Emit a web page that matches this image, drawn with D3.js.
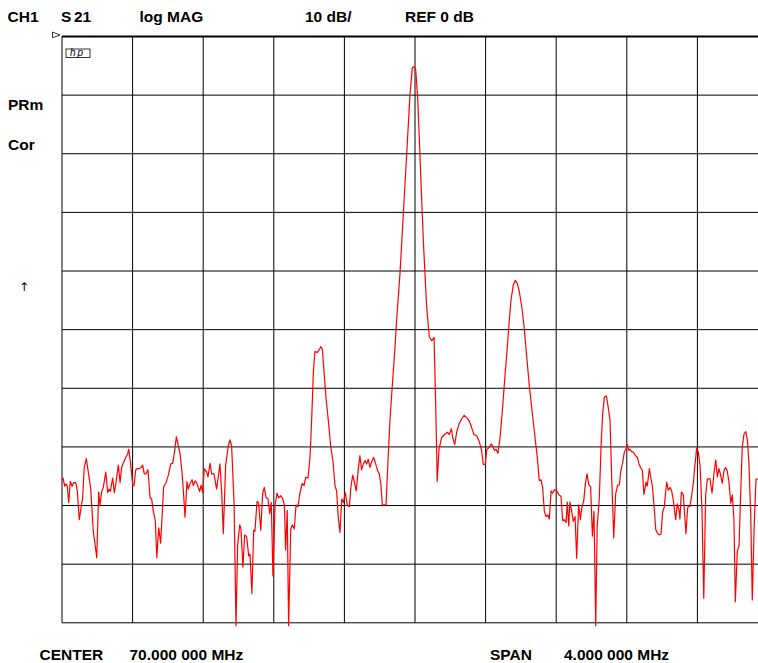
<!DOCTYPE html>
<html><head><meta charset="utf-8">
<script src="https://cdn.jsdelivr.net/npm/d3@7/dist/d3.min.js"></script>
<style>
html,body{margin:0;padding:0;background:#fff;}
svg{display:block;}
text{font-family:"Liberation Sans",Arial,Helvetica,sans-serif;font-weight:bold;fill:#000;}
</style></head>
<body>
<script>
// ---- data ----
const headerLabels = ["CH1", "S", "21", "log MAG", "10 dB/", "REF 0 dB"];
const sideLabels = ["PRm", "Cor"];
const footerLabels = ["CENTER", "70.000 000 MHz", "SPAN", "4.000 000 MHz"];
const freqDomain = [68, 72];      // MHz (center 70, span 4)
const dbDomain = [-100, 0];       // REF 0 dB, 10 dB/div
const xGrid = [68.0, 68.4, 68.8, 69.2, 69.6, 70.0, 70.4, 70.8, 71.2, 71.6, 72.0];
const yGrid = [0, -10, -20, -30, -40, -50, -60, -70, -80, -90, -100];

const freq = [68.000,68.006,68.015,68.023,68.030,68.038,68.047,68.057,68.066,68.078,68.087,68.098,68.109,68.117,68.126,68.138,68.149,68.163,68.177,68.187,68.197,68.208,68.215,68.225,68.234,68.248,68.259,68.266,68.274,68.287,68.296,68.306,68.319,68.329,68.338,68.347,68.361,68.372,68.378,68.389,68.401,68.408,68.418,68.427,68.438,68.449,68.457,68.466,68.476,68.487,68.499,68.508,68.517,68.529,68.537,68.548,68.559,68.576,68.589,68.602,68.616,68.627,68.636,68.648,68.659,68.669,68.680,68.690,68.697,68.708,68.716,68.725,68.737,68.744,68.754,68.763,68.771,68.780,68.788,68.797,68.806,68.820,68.827,68.839,68.848,68.861,68.876,68.895,68.905,68.914,68.927,68.942,68.952,68.961,68.975,68.986,68.995,69.007,69.014,69.025,69.035,69.046,69.058,69.065,69.076,69.086,69.093,69.105,69.114,69.126,69.137,69.146,69.157,69.167,69.177,69.186,69.195,69.207,69.218,69.228,69.239,69.250,69.260,69.267,69.276,69.284,69.296,69.305,69.316,69.326,69.337,69.348,69.361,69.371,69.381,69.394,69.405,69.415,69.424,69.433,69.446,69.456,69.466,69.475,69.484,69.496,69.509,69.522,69.535,69.547,69.556,69.565,69.575,69.585,69.594,69.605,69.616,69.628,69.637,69.647,69.658,69.667,69.679,69.688,69.697,69.707,69.717,69.726,69.735,69.745,69.756,69.766,69.777,69.789,69.798,69.807,69.815,69.836,69.847,69.858,69.871,69.887,69.896,69.915,69.934,69.953,69.972,69.985,69.996,70.004,70.015,70.032,70.047,70.066,70.081,70.095,70.108,70.117,70.126,70.136,70.151,70.170,70.185,70.194,70.206,70.213,70.225,70.236,70.249,70.265,70.278,70.293,70.308,70.321,70.334,70.350,70.363,70.376,70.387,70.398,70.406,70.419,70.431,70.440,70.449,70.459,70.470,70.482,70.495,70.508,70.520,70.533,70.544,70.557,70.568,70.580,70.591,70.605,70.618,70.633,70.648,70.663,70.680,70.693,70.704,70.714,70.723,70.733,70.742,70.752,70.761,70.771,70.780,70.789,70.803,70.816,70.827,70.837,70.846,70.856,70.863,70.871,70.878,70.888,70.897,70.907,70.916,70.927,70.937,70.946,70.956,70.965,70.975,70.984,70.995,71.005,71.014,71.024,71.032,71.044,71.054,71.063,71.073,71.084,71.095,71.105,71.115,71.126,71.137,71.148,71.158,71.165,71.177,71.186,71.195,71.203,71.211,71.218,71.228,71.237,71.250,71.260,71.269,71.279,71.288,71.297,71.309,71.316,71.328,71.337,71.345,71.354,71.364,71.373,71.384,71.394,71.403,71.412,71.426,71.435,71.445,71.454,71.463,71.477,71.486,71.496,71.501,71.509,71.520,71.535,71.545,71.558,71.568,71.577,71.586,71.596,71.605,71.615,71.626,71.636,71.647,71.656,71.671,71.683,71.694,71.704,71.713,71.722,71.732,71.741,71.751,71.760,71.769,71.779,71.789,71.798,71.807,71.815,71.826,71.836,71.845,71.854,71.864,71.874,71.883,71.892,71.902,71.911,71.921,71.932,71.943];

const s21 = [-75.5,-75.3,-76.7,-76.3,-76.7,-79.5,-75.9,-76.7,-76.1,-76.1,-77.6,-82.4,-80.2,-78.7,-73.5,-72.0,-74.3,-77.2,-84.3,-86.6,-88.9,-77.7,-80.0,-77.6,-76.9,-74.3,-77.8,-77.2,-77.6,-75.3,-77.8,-76.1,-73.1,-76.1,-73.5,-72.8,-71.8,-71.2,-70.4,-72.9,-76.6,-76.6,-73.9,-73.7,-73.7,-73.5,-73.1,-74.6,-74.6,-73.9,-78.7,-78.9,-80.9,-82.6,-88.9,-83.8,-86.4,-76.8,-76.1,-74.9,-72.9,-72.8,-71.2,-68.3,-69.8,-71.2,-74.3,-78.6,-82.0,-75.9,-77.2,-76.3,-75.6,-76.6,-75.8,-76.1,-76.9,-77.6,-76.5,-77.8,-73.7,-74.3,-75.1,-72.8,-74.6,-74.6,-77.2,-72.9,-77.9,-84.8,-73.2,-69.8,-68.8,-69.8,-79.7,-100.5,-86.8,-83.3,-84.0,-90.5,-85.0,-85.3,-88.6,-88.3,-95.0,-84.2,-84.4,-79.3,-79.5,-84.2,-77.9,-76.9,-78.7,-78.8,-81.4,-79.5,-92.0,-80.0,-77.9,-78.7,-78.3,-78.8,-79.9,-87.6,-80.8,-100.5,-84.0,-83.3,-84.0,-79.9,-80.2,-77.9,-76.2,-76.6,-75.2,-75.3,-71.8,-65.0,-57.3,-53.7,-53.9,-53.5,-52.9,-53.3,-56.9,-61.7,-65.5,-69.8,-72.4,-76.7,-77.5,-82.0,-84.6,-78.9,-79.5,-77.8,-79.9,-80.2,-76.8,-74.8,-76.2,-77.5,-73.7,-71.5,-73.9,-72.9,-72.3,-72.9,-72.1,-73.5,-72.4,-71.8,-72.9,-74.1,-74.6,-76.5,-79.9,-79.9,-72.4,-65.5,-59.7,-52.9,-48.3,-40.4,-30.2,-20.0,-9.7,-5.3,-5.1,-5.7,-10.3,-23.3,-34.7,-46.1,-51.2,-51.9,-51.3,-62.5,-75.9,-70.4,-68.4,-67.8,-67.5,-67.9,-66.9,-68.4,-69.6,-67.5,-66.1,-65.2,-64.6,-65.0,-65.6,-66.7,-67.9,-68.1,-69.0,-70.4,-73.0,-73.0,-70.5,-70.1,-69.5,-69.8,-70.6,-70.4,-71.1,-68.4,-63.8,-58.6,-54.1,-48.9,-44.9,-42.4,-41.6,-42.1,-43.5,-46.1,-49.5,-54.6,-59.7,-63.8,-68.4,-71.8,-75.7,-75.6,-76.9,-81.0,-81.9,-81.6,-82.3,-77.5,-77.9,-77.3,-77.5,-78.2,-78.4,-82.6,-82.4,-82.9,-79.4,-83.5,-79.4,-81.0,-82.7,-81.9,-89.0,-79.9,-82.4,-80.2,-79.2,-76.3,-74.6,-76.4,-76.8,-85.2,-81.0,-100.5,-83.6,-78.9,-70.1,-64.4,-61.5,-61.3,-63.3,-65.5,-75.8,-85.5,-78.0,-76.5,-76.5,-74.3,-72.6,-70.9,-70.4,-69.6,-70.6,-70.4,-70.8,-70.9,-71.5,-71.8,-72.9,-73.6,-74.0,-78.1,-76.0,-76.7,-73.7,-75.4,-76.7,-79.9,-84.1,-84.7,-85.0,-84.9,-81.1,-80.3,-76.0,-77.4,-76.9,-77.5,-79.0,-82.4,-79.7,-80.8,-82.3,-77.7,-78.1,-84.8,-80.3,-80.1,-78.2,-76.2,-73.1,-70.2,-70.9,-73.1,-80.8,-95.8,-78.2,-75.5,-75.4,-77.9,-74.5,-72.2,-75.1,-73.7,-74.9,-76.2,-74.0,-73.5,-74.1,-76.0,-79.6,-78.2,-82.4,-96.4,-87.9,-86.8,-78.2,-70.1,-67.8,-67.4,-68.7,-72.9,-81.4,-96.1,-84.1,-75.5,-75.5];

// ---- drawing ----
const W = 758, H = 663;
const svg = d3.select("body").append("svg").attr("width", W).attr("height", H);

const x = d3.scaleLinear().domain(freqDomain).range([62, 768]);
const y = d3.scaleLinear().domain(dbDomain).range([622.8, 36.5]);

const grid = svg.append("g");
grid.selectAll("line.v").data(xGrid).join("line")
  .attr("x1", d => x(d)).attr("x2", d => x(d))
  .attr("y1", y(0)).attr("y2", y(-100))
  .attr("stroke", "#000").attr("stroke-width", 1);
grid.selectAll("line.h").data(yGrid).join("line")
  .attr("x1", x(68)).attr("x2", x(72))
  .attr("y1", d => y(d)).attr("y2", d => y(d))
  .attr("stroke", "#000").attr("stroke-width", d => d === 0 ? 2 : 1);

// reference marker
const ry = y(0);
svg.append("path")
  .attr("d", `M52.5,${ry-4.5} L60,${ry-1.5} L52.5,${ry+1.2} Z`)
  .attr("fill", "none").attr("stroke", "#000").attr("stroke-width", 0.8);

// hp logo
svg.append("rect").attr("x", 66).attr("y", 49).attr("width", 24).attr("height", 8.5)
  .attr("fill", "none").attr("stroke", "#000").attr("stroke-width", 0.8);
svg.append("text").attr("x", 70).attr("y", 56.3).text("hp")
  .style("font-size", "10px").style("font-style", "italic").style("font-weight", "normal")
  .style("letter-spacing", "2px");

// trace
const pts = d3.range(Math.min(freq.length, s21.length)).map(i => [freq[i], s21[i]]);
const line = d3.line().x(d => x(d[0])).y(d => y(d[1]));
svg.append("path").datum(pts).attr("d", line)
  .attr("fill", "none").attr("stroke", "#ff0000").attr("stroke-width", 1.2)
  .attr("stroke-linejoin", "round");

// texts
const fs = "15.5px";
const hdrX = [7.5, 61, 74, 139.5, 305, 405];
svg.selectAll("text.hdr").data(headerLabels).join("text").attr("class", "hdr")
  .attr("x", (d, i) => hdrX[i]).attr("y", 22).text(d => d).style("font-size", fs);
const sideY = [109.5, 149.5];
svg.selectAll("text.side").data(sideLabels).join("text").attr("class", "side")
  .attr("x", 8).attr("y", (d, i) => sideY[i]).text(d => d).style("font-size", fs);
svg.append("text").attr("x", 19).attr("y", 291).text("↑")
  .style("font-family", "'DejaVu Sans', sans-serif")
  .style("font-size", "12px").style("font-weight", "normal");
const ftX = [39.5, 129.5, 490, 564];
svg.selectAll("text.ft").data(footerLabels).join("text").attr("class", "ft")
  .attr("x", (d, i) => ftX[i]).attr("y", 660).text(d => d).style("font-size", fs);
</script>
</body></html>
